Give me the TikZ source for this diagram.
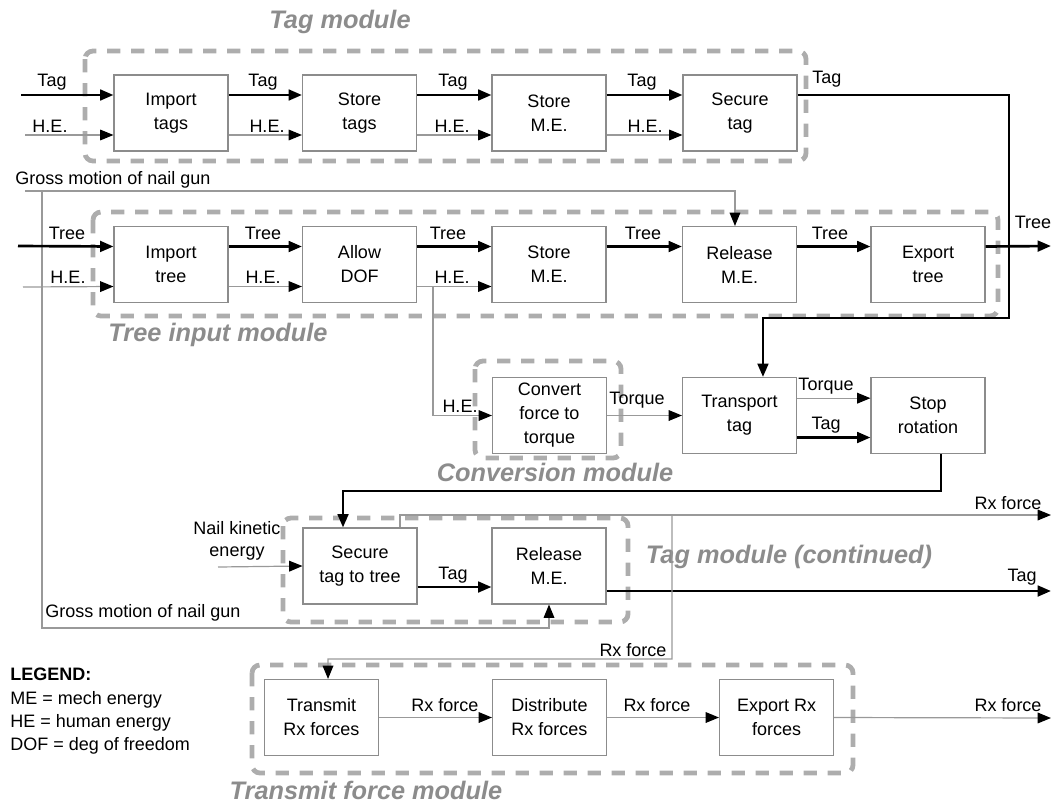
\documentclass[tikz,border=0pt]{standalone}
\usepackage{fontspec}
\setmainfont{Liberation Sans}
\usetikzlibrary{arrows.meta}
\newcommand{\fsz}{\fontsize{13.5}{18}\selectfont}
\begin{document}
\begin{tikzpicture}[x=0.75pt,y=-0.75pt,
  box/.style={draw=black!45, line width=0.8pt, fill=white, minimum width=85.5pt, minimum height=57pt, inner sep=0pt, align=center, font=\fsz},
  modbox/.style={draw=black!32, line width=3.6pt, dash pattern=on 10pt off 8pt, rounded corners=6pt},
  modlab/.style={font=\fontsize{19}{22}\selectfont\bfseries\itshape, text=black!45, inner sep=0pt},
  lab/.style={font=\fsz, inner sep=0pt},
  flowT/.style={line width=2pt, -{Triangle[length=10pt,width=8pt]}},
  flowH/.style={draw=black!40, line width=0.9pt, -{Triangle[length=10pt,width=8pt,color=black]}},
  lineH/.style={draw=black!40, line width=0.9pt}
]
\useasboundingbox (0,0) rectangle (1052,803);

% modules
\draw[modbox] (85,51) rectangle (806,161);
\draw[modbox] (93,212) rectangle (998,316);
\draw[modbox] (475,361) rectangle (621,458);
\draw[modbox] (283,518) rectangle (628,622);
\draw[modbox] (252,665) rectangle (853,773);
\node[modlab] (m1) at (340,22) {Tag module};
\node[modlab] (m2) at (218,335) {Tree input module};
\node[modlab] (m3) at (555,472) {Conversion module};
\node[modlab] (m4) at (789,557) {Tag module (continued)};
\node[modlab] (m5) at (366,790) {Transmit force module};

% boxes
\node[box] (it) at (171,113) {Import\\tags};
\node[box] (st) at (359.5,113) {Store\\tags};
\node[box] (sm) at (549,113) {Store\\M.E.};
\node[box] (sc) at (740,113) {Secure\\tag};

\node[box] (itr) at (171,264.5) {Import\\tree};
\node[box] (ad) at (359.5,264.5) {Allow\\DOF};
\node[box] (sm2) at (549,264.5) {Store\\M.E.};
\node[box] (rm) at (739.5,264.5) {Release\\M.E.};
\node[box] (et) at (928,264.5) {Export\\tree};

\node[box] (cv) at (549.5,415.5) {Convert\\force to\\torque};
\node[box] (tt) at (739.5,415.5) {Transport\\tag};
\node[box] (sr) at (928,415.5) {Stop\\rotation};

\node[box] (sec) at (360,566) {Secure\\tag to tree};
\node[box] (rm2) at (549,566) {Release\\M.E.};

\node[box] (tm) at (321.5,717.5) {Transmit\\Rx forces};
\node[box] (db) at (549.5,717.5) {Distribute\\Rx forces};
\node[box] (ex) at (776.5,717.5) {Export Rx\\forces};

% free ends
\coordinate (tagin) at (21,95);
\coordinate (hein1) at (25,135);
\coordinate (treein) at (18,246);
\coordinate (hein2) at (23,287);
\coordinate (tagc) at (1009,318);
\coordinate (treeout) at (1051,246);
\coordinate (gms) at (25,191);
\coordinate (gmx) at (42,191);
\coordinate (gmc) at (42,628);
\coordinate (hebr) at (433,287);
\coordinate (stc) at (343,491);
\coordinate (nke) at (218,567);
\coordinate (tagout) at (1051,591);
\coordinate (rxout) at (1051,515);
\coordinate (rxj) at (672,515);
\coordinate (rxc) at (328,659);
\coordinate (rxout2) at (1051,718);

% row 1
\draw[flowT] (tagin) -- ([yshift=13.5pt]it.west);
\draw[flowH] (hein1) -- ([yshift=-16.5pt]it.west);
\draw[flowT] ([yshift=13.5pt]it.east) -- ([yshift=13.5pt]st.west);
\draw[flowH] ([yshift=-16.5pt]it.east) -- ([yshift=-16.5pt]st.west);
\draw[flowT] ([yshift=13.5pt]st.east) -- ([yshift=13.5pt]sm.west);
\draw[flowH] ([yshift=-16.5pt]st.east) -- ([yshift=-16.5pt]sm.west);
\draw[flowT] ([yshift=13.5pt]sm.east) -- ([yshift=13.5pt]sc.west);
\draw[flowH] ([yshift=-16.5pt]sm.east) -- ([yshift=-16.5pt]sc.west);
\draw[flowT] ([yshift=13.5pt]sc.east) -| (tagc) -| ([xshift=17.6pt]tt.north);

% gross motion
\draw[flowH] (gms) -| ([xshift=-3.4pt]rm.north);
\draw[flowH] (gmx) -- (gmc) -| (rm2.south);

% row 2
\draw[flowT] (treein) -- ([yshift=13.5pt]itr.west);
\draw[flowH] (hein2) -- ([yshift=-16.5pt]itr.west);
\draw[flowT] ([yshift=13.5pt]itr.east) -- ([yshift=13.5pt]ad.west);
\draw[flowH] ([yshift=-16.5pt]itr.east) -- ([yshift=-16.5pt]ad.west);
\draw[flowT] ([yshift=13.5pt]ad.east) -- ([yshift=13.5pt]sm2.west);
\draw[flowH] ([yshift=-16.5pt]ad.east) -- ([yshift=-16.5pt]sm2.west);
\draw[flowT] ([yshift=13.5pt]sm2.east) -- ([yshift=13.5pt]rm.west);
\draw[flowT] ([yshift=13.5pt]rm.east) -- ([yshift=13.5pt]et.west);
\draw[flowT] ([yshift=13.5pt]et.east) -- (treeout);
\draw[flowH] (hebr) |- (cv.west);

% row 3
\draw[flowH] (cv.east) -- (tt.west);
\draw[flowH] ([yshift=13pt]tt.east) -- ([yshift=13pt]sr.west);
\draw[flowT] ([yshift=-16.5pt]tt.east) -- ([yshift=-16.5pt]sr.west);
\draw[flowT] ([xshift=9.75pt]sr.south) |- (stc) -- ([xshift=-12.75pt]sec.north);

% row 4
\draw[flowH] (nke) -- (sec.west);
\draw[flowT] ([yshift=-15.75pt]sec.east) -- ([yshift=-15.75pt]rm2.west);
\draw[flowT] ([yshift=-18.75pt]rm2.east) -- (tagout);
\draw[flowH] ([xshift=30pt]sec.north) |- (rxout);
\draw[flowH] (rxj) |- (rxc) -- ([xshift=4.9pt]tm.north);

% row 5
\draw[flowH] (tm.east) -- (db.west);
\draw[flowH] (db.east) -- (ex.west);
\draw[flowH] (ex.east) -- (rxout2);

% labels
\node[lab] (l1) at (52,82) {Tag};
\node[lab] (l2) at (50,126) {H.E.};
\node[lab] (l3) at (263,82) {Tag};
\node[lab] (l4) at (267,126) {H.E.};
\node[lab] (l5) at (453,82) {Tag};
\node[lab] (l6) at (452,126) {H.E.};
\node[lab] (l7) at (642,82) {Tag};
\node[lab] (l8) at (645,126) {H.E.};
\node[lab, anchor=west] (l9) at (812,79) {Tag};
\node[lab, anchor=west] (l10) at (15,180) {Gross motion of nail gun};
\node[lab] (l11) at (67,233) {Tree};
\node[lab] (l12) at (68,277) {H.E.};
\node[lab] (l13) at (263,233) {Tree};
\node[lab] (l14) at (263,277) {H.E.};
\node[lab] (l15) at (448,233) {Tree};
\node[lab] (l16) at (452,277) {H.E.};
\node[lab] (l17) at (643,233) {Tree};
\node[lab] (l18) at (830,233) {Tree};
\node[lab] (l19) at (1033,222) {Tree};
\node[lab] (l20) at (460,406) {H.E.};
\node[lab] (l21) at (637,400) {Torque};
\node[lab] (l22) at (826,386) {Torque};
\node[lab] (l23) at (826,425) {Tag};
\node[lab, align=center, font=\fontsize{13.5}{17}\selectfont] (l24) at (237,541) {Nail kinetic\\energy};
\node[lab] (l25) at (453,575) {Tag};
\node[lab] (l26) at (1022,577) {Tag};
\node[lab] (l27) at (1008,503) {Rx force};
\node[lab] (l28) at (633,650) {Rx force};
\node[lab, anchor=west] (l29) at (45,613) {Gross motion of nail gun};
\node[lab] (l30) at (445,705) {Rx force};
\node[lab] (l31) at (657,705) {Rx force};
\node[lab] (l32) at (1008,705) {Rx force};

% legend
\node[lab, anchor=north west, align=left, font=\fontsize{13.5}{17.5}\selectfont] (leg) at (10,668)
  {\textbf{LEGEND:}\\ME = mech energy\\HE = human energy\\DOF = deg of freedom};
\end{tikzpicture}
\end{document}
